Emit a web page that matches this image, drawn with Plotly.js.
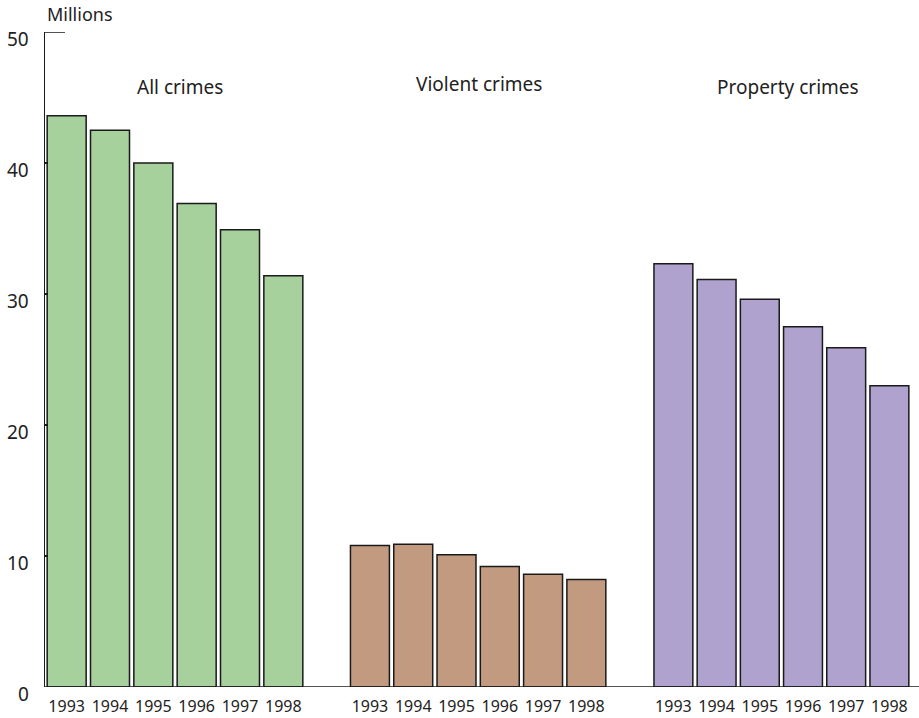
<!DOCTYPE html>
<html><head><meta charset="utf-8">
<script src="https://cdn.plot.ly/plotly-3.0.1.min.js"></script>
<style>body{margin:0;background:#fff}#c{width:919px;height:718px}</style>
</head><body><div id="c"></div>
<script>
const years = ['1993','1994','1995','1996','1997','1998'];
const allCrimes = [43.6, 42.5, 40.0, 36.9, 34.9, 31.4];
const violentCrimes = [10.8, 10.9, 10.1, 9.2, 8.6, 8.2];
const propertyCrimes = [32.3, 31.1, 29.6, 27.5, 25.9, 23.0];
const groupTitles = ['All crimes', 'Violent crimes', 'Property crimes'];
const yTicks = [0, 10, 20, 30, 40, 50];

const FONT = 'Noto Sans, Open Sans, sans-serif';
const colors = ['#a6d09c', '#c29a80', '#b0a2cf'];
const series = [allCrimes, violentCrimes, propertyCrimes];
const axes = ['x', 'x2', 'x3'];
const traces = series.map((vals, i) => ({
  type: 'bar', x: years, y: vals, xaxis: axes[i], yaxis: 'y',
  marker: {color: colors[i], line: {color: '#1a1a1a', width: 1.5}},
  hoverinfo: 'x+y', showlegend: false
}));

const W = 919, L = 45;
const pw = W - L;
const dom = px => (px - L) / pw;
const domains = [[dom(45), dom(305)], [dom(348.3), dom(608)], [dom(651.8), dom(911)]];
const titleX = [dom(180), dom(479), dom(788)];
const xax = d => ({
  domain: d, anchor: 'y', type: 'category', showline: false, showgrid: false,
  zeroline: false, ticks: '', tickfont: {family: FONT, size: 16, color: '#222'},
  ticklabelstandoff: 8, fixedrange: true
});

const layout = {
  width: W, height: 718,
  margin: {l: L, r: 0, t: 32, b: 31},
  paper_bgcolor: '#fff', plot_bgcolor: '#fff',
  bargap: 0.1,
  font: {family: FONT, color: '#222'},
  xaxis: xax(domains[0]), xaxis2: xax(domains[1]), xaxis3: xax(domains[2]),
  yaxis: {
    range: [0, 50], tickvals: yTicks, showticklabels: false,
    showgrid: false, zeroline: false, showline: true, linecolor: '#1a1a1a', linewidth: 1.5,
    ticks: 'inside', ticklen: 3, tickcolor: '#1a1a1a', tickwidth: 1.5, fixedrange: true
  },
  shapes: [
    {type: 'line', xref: 'paper', yref: 'y', x0: 0, x1: 1, y0: 0, y1: 0, line: {color: '#1a1a1a', width: 1.5}},
    {type: 'line', xref: 'paper', yref: 'y', x0: 0, x1: 20 / pw, y0: 50, y1: 50, line: {color: '#1a1a1a', width: 1.5}}
  ],
  annotations: [
    {text: 'Millions', xref: 'paper', yref: 'paper', x: 0, y: 1, xanchor: 'left', yanchor: 'bottom', yshift: 4,
     showarrow: false, font: {family: FONT, size: 18, color: '#222'}},
    ...yTicks.map(v => ({
      text: String(v), xref: 'paper', yref: 'y', x: 0, y: v, xanchor: 'right', yanchor: 'middle',
      xshift: -14, yshift: -7, showarrow: false, font: {family: FONT, size: 19, color: '#222'}
    })),
    ...groupTitles.map((t, i) => ({
      text: t, xref: 'paper', yref: 'y', x: titleX[i], y: i === 1 ? 46.0 : 45.8,
      xanchor: 'center', yanchor: 'middle', showarrow: false, font: {family: FONT, size: 19, color: '#222'}
    }))
  ]
};

Plotly.newPlot('c', traces, layout, {displayModeBar: false, staticPlot: true});
</script></body></html>
